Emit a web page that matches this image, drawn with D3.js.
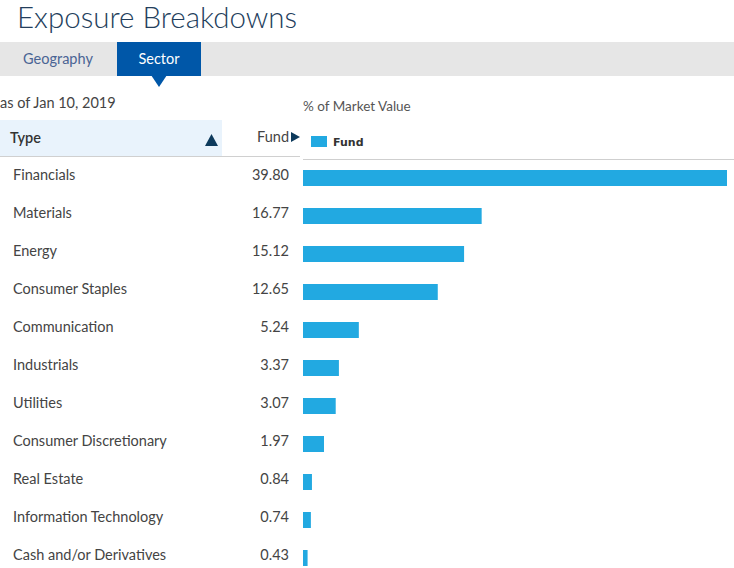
<!DOCTYPE html>
<html>
<head>
<meta charset="utf-8">
<script src="https://cdn.jsdelivr.net/npm/d3@7"></script>
<style>
  body { margin: 0; background: #fff; }
  svg { display: block; font-family: Lato, "Open Sans", sans-serif; }
</style>
</head>
<body>
<svg id="chart" width="734" height="568"></svg>
<script>
var width = 734;
var height = 568;

// sector exposure, % of market value
var sectors = [
    "Financials", "Materials", "Energy", "Consumer Staples", "Communication",
    "Industrials", "Utilities", "Consumer Discretionary", "Real Estate",
    "Information Technology", "Cash and/or Derivatives"
];
var fundValues = [39.80, 16.77, 15.12, 12.65, 5.24, 3.37, 3.07, 1.97, 0.84, 0.74, 0.43];
var tabs = ["Geography", "Sector"];
var asOfDate = "as of Jan 10, 2019";

var svg = d3.select("#chart");

// title
svg.append("text")
    .attr("x", 17)
    .attr("y", 28)
    .style("font-size", "29.5px")
    .style("font-weight", 300)
    .style("fill", "#233e5c")
    .text("Exposure Breakdowns");

// tab bar
svg.append("rect")
    .attr("x", 0).attr("y", 42)
    .attr("width", width).attr("height", 34)
    .style("fill", "#e6e6e6");

var tabX = d3.scaleOrdinal().domain(tabs).range([58, 159]);
svg.append("rect")
    .attr("x", 117).attr("y", 42)
    .attr("width", 84).attr("height", 34)
    .style("fill", "#0057a8");
svg.append("path")
    .attr("d", "M151,75 L167,75 L159,87 Z")
    .style("fill", "#0057a8");
svg.selectAll(".tab")
    .data(tabs)
    .enter().append("text")
    .attr("class", "tab")
    .attr("x", function (d) { return tabX(d); })
    .attr("y", 64)
    .attr("text-anchor", "middle")
    .style("font-size", "14.5px")
    .style("fill", function (d) { return d == "Sector" ? "#ffffff" : "#4a6494"; })
    .text(function (d) { return d; });

// as of date + chart caption
svg.append("text")
    .attr("x", 0).attr("y", 108)
    .style("font-size", "14.5px")
    .style("fill", "#444")
    .text(asOfDate);
svg.append("text")
    .attr("x", 303).attr("y", 111)
    .style("font-size", "13.5px")
    .style("fill", "#555")
    .text("% of Market Value");

// table header
svg.append("rect")
    .attr("x", 0).attr("y", 120)
    .attr("width", 222).attr("height", 36)
    .style("fill", "#e9f3fc");
svg.append("text")
    .attr("x", 10).attr("y", 143)
    .style("font-size", "14.5px")
    .style("font-weight", 600)
    .style("fill", "#333")
    .text("Type");
svg.append("path")
    .attr("d", "M205,146 L211.5,134 L218,146 Z")
    .style("fill", "#0d3a5c");
svg.append("text")
    .attr("x", 289).attr("y", 142)
    .attr("text-anchor", "end")
    .style("font-size", "14.5px")
    .style("fill", "#444")
    .text("Fund");
svg.append("path")
    .attr("d", "M291,132 L300,137 L291,142 Z")
    .style("fill", "#0d3a5c");
svg.append("line")
    .attr("x1", 0).attr("x2", 300)
    .attr("y1", 156.5).attr("y2", 156.5)
    .style("stroke", "#d0d0d0");

// legend
svg.append("rect")
    .attr("x", 311).attr("y", 136)
    .attr("width", 16).attr("height", 11)
    .style("fill", "#22a9e1");
svg.append("text")
    .attr("x", 333).attr("y", 146)
    .style("font-family", "'DejaVu Sans', sans-serif")
    .style("font-size", "11px")
    .style("font-weight", 700)
    .style("fill", "#333")
    .text("Fund");
svg.append("line")
    .attr("x1", 303).attr("x2", width)
    .attr("y1", 159.5).attr("y2", 159.5)
    .style("stroke", "#cfcfcf");

// scales
var x = d3.scaleLinear()
    .domain([0, d3.max(fundValues)])
    .range([303, 727]);
var y = d3.scaleBand()
    .domain(sectors)
    .range([159, 159 + 38 * sectors.length]);

var rows = svg.selectAll(".row")
    .data(sectors)
    .enter().append("g")
    .attr("class", "row")
    .attr("transform", function (d) { return "translate(0," + y(d) + ")"; });

rows.append("text")
    .attr("x", 13).attr("y", 21)
    .style("font-size", "14.5px")
    .style("fill", "#444")
    .text(function (d) { return d; });

rows.append("text")
    .attr("x", 289).attr("y", 21)
    .attr("text-anchor", "end")
    .style("font-size", "14.5px")
    .style("fill", "#444")
    .text(function (d, i) { return fundValues[i].toFixed(2); });

rows.append("rect")
    .attr("x", x(0))
    .attr("y", 11)
    .attr("height", 16)
    .attr("width", function (d, i) { return x(fundValues[i]) - x(0); })
    .style("fill", "#22a9e1");
</script>
</body>
</html>
